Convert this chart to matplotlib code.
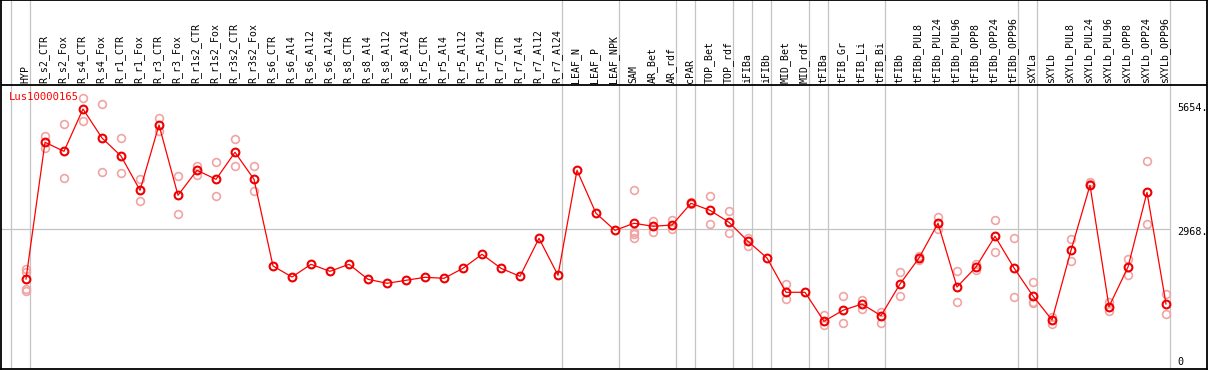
import matplotlib
matplotlib.use("Agg")
import matplotlib.pyplot as plt

# ---------------- data ----------------
title = "Lus10000165"
categories = [
    "HYP", "R_s2_CTR", "R_s2_Fox", "R_s4_CTR", "R_s4_Fox", "R_r1_CTR", "R_r1_Fox",
    "R_r3_CTR", "R_r3_Fox", "R_r1s2_CTR", "R_r1s2_Fox", "R_r3s2_CTR", "R_r3s2_Fox",
    "R_s6_CTR", "R_s6_Al4", "R_s6_Al12", "R_s6_Al24", "R_s8_CTR", "R_s8_Al4",
    "R_s8_Al12", "R_s8_Al24", "R_r5_CTR", "R_r5_Al4", "R_r5_Al12", "R_r5_Al24",
    "R_r7_CTR", "R_r7_Al4", "R_r7_Al12", "R_r7_Al24", "LEAF_N", "LEAF_P", "LEAF_NPK",
    "SAM", "AR_Bet", "AR_rdf", "cPAR", "TOP_Bet", "TOP_rdf", "iFIBa", "iFIBb",
    "MID_Bet", "MID_rdf", "tFIBa", "tFIB_Gr", "tFIB_Li", "tFIB_Bi", "tFIBb",
    "tFIBb_PUL8", "tFIBb_PUL24", "tFIBb_PUL96", "tFIBb_OPP8", "tFIBb_OPP24",
    "tFIBb_OPP96", "sXYLa", "sXYLb", "sXYLb_PUL8", "sXYLb_PUL24", "sXYLb_PUL96",
    "sXYLb_OPP8", "sXYLb_OPP24", "sXYLb_OPP96",
]

mean_values = [
    1882, 4836, 4641, 5555, 4929, 4540, 3799, 5210, 3691, 4231, 4036, 4620, 4036,
    2163, 1925, 2200, 2048, 2200, 1876, 1789, 1854, 1919, 1897, 2113, 2416,
    2113, 1940, 2761, 1962, 4231, 3302, 2934,
    3086, 3021, 3049, 3518, 3366, 3107, 2697, 2336,
    1595, 1595, 968, 1206, 1342, 1089, 1774,
    2336, 3086, 1709, 2141, 2805, 2120,
    1515, 996, 2502, 3907, 1284, 2141, 3755, 1342,
]

replicates = [
    [2092, 2040, 1666, 1623], [4972, 4706], [5225, 4058], [5787, 5303], [5657, 4188],
    [4922, 4166], [4043, 3561], [5354, 5087], [4101, 3280], [4330, 4136],
    [4404, 3669], [4901, 4330], [4317, 3777],
    [], [], [], [], [], [], [], [], [], [], [], [], [], [], [], [],
    [], [], [],
    [3799, 2904, 2848, 2774], [3142, 2904], [3157, 2962], [3539, 3496],
    [3669, 3077], [3345, 2870], [2768, 2595], [],
    [1768, 1443], [], [1098, 888], [1515, 925], [1428, 1240], [1169, 925],
    [2033, 1510],
    [2379, 2286], [3215, 2956], [2048, 1379], [2206, 2077], [3150, 2459],
    [2761, 1487],
    [1824, 1392, 1357], [1067, 903], [2746, 2271], [3978, 3935], [1392, 1191],
    [2314, 1962], [4425, 3064], [1558, 1119],
]

# indices where a new sample group starts (group separators)
group_breaks = [0, 1, 29, 32, 35, 36, 38, 39, 40, 42, 43, 46, 53, 54, 61]

tick_values = [5654, 2968, 0]
tick_labels = ["5654.", "2968.", "0"]
grid_value = 2968

# ---------------- figure ----------------
W, H = 1209, 370
fig = plt.figure(figsize=(W / 100, H / 100), dpi=100)
ax = fig.add_axes([1 / W, 1 / H, 1206 / W, 369 / H])

# scale: x index i -> pixel 26 + 19 i ; value v -> pixel 366.1 - v*0.04628
px_per_i = 19.0
x0_px = 26.0
px_per_v = 0.04628
zero_px = 366.1


def ix(px):
    return (px - x0_px) / px_per_i


def vy(py):
    return (zero_px - py) / px_per_v


ax.set_xlim(ix(1), ix(1207))
ax.set_ylim(vy(369), vy(0))
ax.set_xticks([])
ax.set_yticks([])
for s in ax.spines.values():
    s.set_color("black")
    s.set_linewidth(1.3)

mono = "DejaVu Sans Mono"
grey = "#c4c4c4"

# header separator
header_v = vy(85)
ax.axhline(header_v, color="black", lw=1.3, zorder=5)

# group separators
cell_off = 15 / 19.0
for b in group_breaks:
    ax.axvline(b - cell_off, color=grey, lw=0.9, zorder=1)

right_edge = group_breaks[-1] - cell_off
ax.hlines(grid_value, ix(1), right_edge, color=grey, lw=0.9, zorder=1)

# category labels (rotated header)
for i, lab in enumerate(categories):
    ax.annotate(lab, xy=(i, header_v), xytext=(-0.7, 1.6), textcoords="offset points",
                rotation=90, ha="center", va="bottom", fontsize=7.1,
                family=mono, color="black")

# replicate points
for i, reps in enumerate(replicates):
    if reps:
        ax.plot([i] * len(reps), reps, linestyle="none", marker="o", ms=5.6,
                mfc="none", mec="#f0a4a4", mew=1.2, zorder=2)

# mean line + markers
xs = list(range(len(categories)))
ax.plot(xs, mean_values, color="#ff0000", lw=0.9, zorder=3)
ax.plot(xs, mean_values, linestyle="none", marker="o", ms=5.6, mfc="none",
        mec="#ee0000", mew=1.5, zorder=4)

# y tick labels on the right
offsets = [-2.4, -2.4, 3.2]
for v, lab, off in zip(tick_values, tick_labels, offsets):
    ax.annotate(lab, xy=(right_edge, v), xytext=(5.5, off), textcoords="offset points",
                ha="left", va="center", fontsize=7.3, family=mono, color="black")

# gene name
ax.text((9.3 - 1) / 1206, (369 - 97.3) / 369, title, transform=ax.transAxes,
        ha="left", va="center", fontsize=7.6, family=mono, color="#ff0000")

fig.savefig("out.png", dpi=100)
